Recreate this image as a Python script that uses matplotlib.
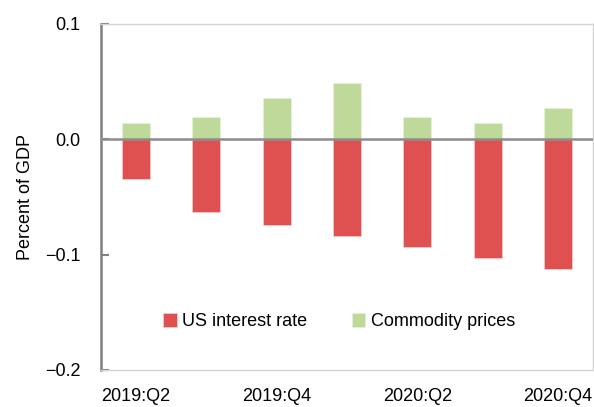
import matplotlib
matplotlib.use("Agg")
import matplotlib.pyplot as plt
import numpy as np

plt.rcParams['font.family'] = ['Liberation Sans', 'DejaVu Sans']

quarters = ["2019:Q2", "2019:Q3", "2019:Q4", "2020:Q1", "2020:Q2", "2020:Q3", "2020:Q4"]
tick_labels = ["2019:Q2", "", "2019:Q4", "", "2020:Q2", "", "2020:Q4"]
us_interest_rate = [-0.034, -0.063, -0.074, -0.084, -0.093, -0.103, -0.112]
commodity_prices = [0.014, 0.019, 0.036, 0.049, 0.019, 0.014, 0.027]

red = "#DF5050"
green = "#BFD99B"

fig = plt.figure(figsize=(5.94, 4.07), dpi=100)
ax = fig.add_axes([101/594, 1-370/407, 492/594, 346/407])

x = np.arange(len(quarters))
ax.bar(x, us_interest_rate, width=0.4, color=red, edgecolor="#F4C8C8", linewidth=0.6, label="US interest rate", zorder=2)
ax.bar(x, commodity_prices, width=0.4, color=green, edgecolor="#E6F0DA", linewidth=0.6, label="Commodity prices", zorder=2)
ax.axhline(0, color="#8C8C8C", linewidth=1.8, zorder=3)

ax.set_xlim(-0.5, 6.5)
ax.set_ylim(-0.2, 0.1)
ax.set_yticks([-0.2, -0.1, 0.0, 0.1])
ax.set_yticklabels(["\u22120.2", "\u22120.1", "0.0", "0.1"])
ax.set_xticks(x)
ax.set_xticklabels(tick_labels)
ax.tick_params(axis='x', length=0, labelsize=13, pad=13)
ax.tick_params(axis='y', direction='in', length=6, width=1.5, color="#808080", labelsize=13, pad=15)

ax.spines['left'].set_color("#808080")
ax.spines['left'].set_linewidth(1.8)
for s in ['top', 'right', 'bottom']:
    ax.spines[s].set_color("#D4D4D4")
    ax.spines[s].set_linewidth(1.0)

ax.set_ylabel("Percent of GDP", fontsize=13, labelpad=8)

ax.legend(loc='center', bbox_to_anchor=(0.484, 0.139), ncol=2, frameon=False,
          fontsize=13, handlelength=0.75, handleheight=0.75, handletextpad=0.3,
          columnspacing=2.45)

fig.savefig("out.png", dpi=100)
